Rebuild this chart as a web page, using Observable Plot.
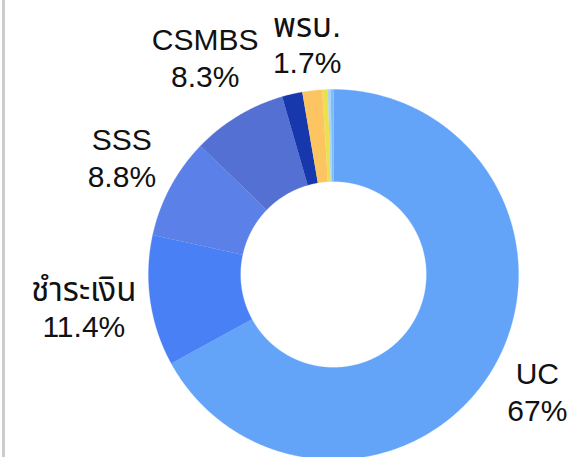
<!DOCTYPE html>
<html>
<head>
<meta charset="utf-8">
<script src="https://cdn.jsdelivr.net/npm/d3@7"></script>
<script src="https://cdn.jsdelivr.net/npm/@observablehq/plot@0.6"></script>
<style>
  html, body { margin: 0; padding: 0; background: #fff; }
  #wrap { position: relative; width: 569px; height: 457px; overflow: hidden; }
  #bar { position: absolute; left: 2px; top: 0; width: 3px; height: 457px; background: #cccccc; }
</style>
</head>
<body>
<div id="wrap"><div id="bar"></div><div id="chart"></div></div>
<script>
// Data (clockwise from 12 o'clock)
const categories = ["UC", "ชำระเงิน", "SSS", "CSMBS", "อื่นๆ1", "พรบ.", "อื่นๆ2", "อื่นๆ3", "อื่นๆ4"];
const shares = [67.0, 11.4, 8.8, 8.3, 1.77, 1.73, 0.48, 0.25, 0.24];
const labelNames = ["UC", "ชำระเงิน", "SSS", "CSMBS", "", "พรบ.", "", "", ""];
const labelValues = ["67%", "11.4%", "8.8%", "8.3%", "", "1.7%", "", "", ""];
const colors = ["#63a4f8", "#4a80f5", "#5b81e8", "#5470d3", "#1737ad", "#fdc562", "#ece04d", "#a9d3f7", "#7ebcf4"];

const W = 569, H = 457;
const cx = 333, cy = 274, R = 185, r = 93;
const fontSize = 30, thaiSize = 33, lineGap = 37;
const fontFamily = "'Liberation Sans', 'Noto Sans Thai', Arial, sans-serif";
const isThai = s => /[\u0E00-\u0E7F]/.test(s);

const pie = d3.pie().sort(null).value(d => d.value)(categories.map((c, i) => ({key: c, value: shares[i]})));

// slice polygons in data coordinates (origin at donut centre, y downwards)
const pts = [];
for (const s of pie) {
  const n = Math.max(2, Math.ceil((s.endAngle - s.startAngle) / 0.005));
  for (let k = 0; k <= n; k++) {
    const a = s.startAngle + (s.endAngle - s.startAngle) * k / n;
    pts.push({key: s.data.key, x: R * Math.sin(a), y: -R * Math.cos(a)});
  }
  for (let k = n; k >= 0; k--) {
    const a = s.startAngle + (s.endAngle - s.startAngle) * k / n;
    pts.push({key: s.data.key, x: r * Math.sin(a), y: -r * Math.cos(a)});
  }
}

// labels: outside the ring along the slice mid-angle, text box kept clear of the ring
const ctx = document.createElement("canvas").getContext("2d");
const labels = [];
pie.forEach((s, i) => {
  if (!labelNames[i]) return;
  const ns = isThai(labelNames[i]) ? thaiSize : fontSize;
  ctx.font = `${ns}px ${fontFamily}`;
  const w1 = ctx.measureText(labelNames[i]).width;
  ctx.font = `${fontSize}px ${fontFamily}`;
  const w2 = ctx.measureText(labelValues[i]).width;
  const w = Math.max(w1, w2), h = lineGap + 22;
  const a = (s.startAngle + s.endAngle) / 2;
  const ux = Math.sin(a), uy = -Math.cos(a);
  const d = R + 11 + Math.abs(ux) * w / 2 + Math.abs(uy) * h / 2;
  labels.push({name: labelNames[i], value: labelValues[i], size: ns, x: ux * d, y: uy * d});
});

const chart = Plot.plot({
  width: W,
  height: H,
  margin: 0,
  x: {domain: [-cx, W - cx], range: [0, W], axis: null},
  y: {domain: [-cy, H - cy], range: [0, H], axis: null},
  color: {domain: categories, range: colors},
  style: {background: "transparent", fontFamily},
  marks: [
    Plot.line(pts, {x: "x", y: "y", z: "key", fill: "key", stroke: "key", strokeWidth: 0.3, curve: "linear"}),
    Plot.text(labels, {x: "x", y: "y", text: "name", fontSize: "size", dy: -lineGap / 2 - 2, fill: "#111", textAnchor: "middle", lineAnchor: "middle"}),
    Plot.text(labels, {x: "x", y: "y", text: "value", fontSize, dy: lineGap / 2 - 2, fill: "#111", textAnchor: "middle", lineAnchor: "middle"})
  ]
});
document.getElementById("chart").appendChild(chart);
</script>
</body>
</html>
